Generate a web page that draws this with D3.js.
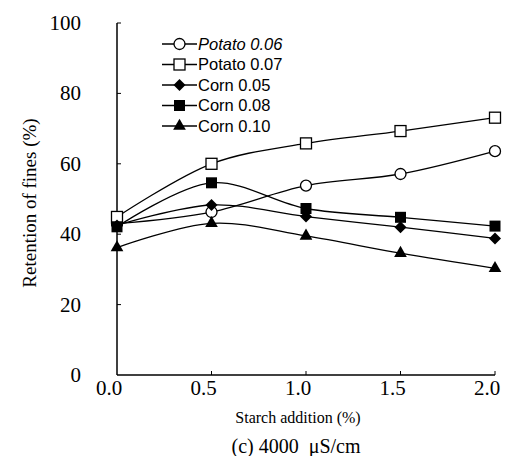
<!DOCTYPE html>
<html>
<head>
<meta charset="utf-8">
<script src="https://cdn.jsdelivr.net/npm/d3@7"></script>
<style>
  body { margin: 0; background: #fff; }
</style>
</head>
<body>
<div id="chart"></div>
<script>
const xValues = [0, 0.5, 1.0, 1.5, 2.0]
const xTicks = [0, 0.5, 1.0, 1.5, 2.0]
const yTicks = [0, 20, 40, 60, 80, 100]

const seriesNames = ['Potato 0.06', 'Potato 0.07', 'Corn 0.05', 'Corn 0.08', 'Corn 0.10']
const potato006 = [43.0, 46.3, 53.8, 57.1, 63.6]
const potato007 = [44.9, 60.0, 65.8, 69.3, 73.1]
const corn005 = [42.5, 48.3, 45.0, 42.0, 38.8]
const corn008 = [42.1, 54.6, 47.3, 44.8, 42.3]
const corn010 = [36.2, 43.1, 39.5, 34.6, 30.3]
const markers = ['circle', 'square', 'diamond', 'squareFilled', 'triangle']

const allSeries = [potato006, potato007, corn005, corn008, corn010].map((vals, i) => ({
  name: seriesNames[i],
  marker: markers[i],
  points: vals.map((v, j) => ({ x: xValues[j], y: v }))
}))

const width = 505
const height = 456

const svg = d3.select('#chart')
  .append('svg')
  .attr('width', width)
  .attr('height', height)

const x = d3.scaleLinear().domain([0, 2]).range([117, 495])
const y = d3.scaleLinear().domain([0, 100]).range([375, 23])

// axes drawn by hand so the ticks point inward
const axes = svg.append('g').attr('stroke', '#000').attr('fill', 'none')
axes.append('line')
  .attr('x1', x(0)).attr('x2', x(0))
  .attr('y1', y(100)).attr('y2', y(0))
  .attr('stroke-width', 1.5)
axes.append('line')
  .attr('x1', x(0)).attr('x2', x(2))
  .attr('y1', y(0)).attr('y2', y(0))
  .attr('stroke-width', 1.5)
axes.selectAll('.yt')
  .data(yTicks.slice(1))
  .join('line')
  .attr('x1', x(0)).attr('x2', x(0) + 4)
  .attr('y1', d => y(d)).attr('y2', d => y(d))
axes.selectAll('.xt')
  .data(xTicks.slice(1))
  .join('line')
  .attr('x1', d => x(d)).attr('x2', d => x(d))
  .attr('y1', y(0)).attr('y2', y(0) - 4)

const serif = '"Liberation Serif", "Times New Roman", serif'
const sans = '"Liberation Sans", Arial, sans-serif'

svg.append('g')
  .selectAll('text')
  .data(yTicks)
  .join('text')
  .attr('x', 81)
  .attr('y', d => y(d) + 7)
  .attr('text-anchor', 'end')
  .style('font', `21px ${serif}`)
  .text(d => d)

svg.append('g')
  .selectAll('text')
  .data(xTicks)
  .join('text')
  .attr('x', d => x(d) - 8)
  .attr('y', 395)
  .attr('text-anchor', 'middle')
  .style('font', `21px ${serif}`)
  .text(d => d.toFixed(1))

svg.append('text')
  .attr('transform', `translate(36,${203}) rotate(-90)`)
  .attr('text-anchor', 'middle')
  .style('font', `19px ${serif}`)
  .text('Retention of fines (%)')

svg.append('text')
  .attr('x', 298)
  .attr('y', 423)
  .attr('text-anchor', 'middle')
  .style('font', `16px ${serif}`)
  .text('Starch addition (%)')

svg.append('text')
  .attr('x', 296)
  .attr('y', 453)
  .attr('text-anchor', 'middle')
  .style('font', `20px ${serif}`)
  .style('white-space', 'pre')
  .text('(c) 4000  \u03bcS/cm')

const line = d3.line()
  .x(d => x(d.x))
  .y(d => y(d.y))
  .curve(d3.curveCatmullRom.alpha(0.5))

function drawMarker(g, type, cx, cy) {
  if (type === 'circle') {
    g.append('circle').attr('cx', cx).attr('cy', cy).attr('r', 5.5)
      .attr('fill', '#fff').attr('stroke', '#000').attr('stroke-width', 1.3)
  } else if (type === 'square') {
    g.append('rect').attr('x', cx - 5.5).attr('y', cy - 5.5).attr('width', 11).attr('height', 11)
      .attr('fill', '#fff').attr('stroke', '#000').attr('stroke-width', 1.3)
  } else if (type === 'squareFilled') {
    g.append('rect').attr('x', cx - 5.5).attr('y', cy - 5.5).attr('width', 11).attr('height', 11)
      .attr('fill', '#000')
  } else if (type === 'diamond') {
    // a square turned 45 degrees, wider than d3's own diamond
    g.append('path')
      .attr('d', d3.symbol(d3.symbolSquare, 72)())
      .attr('transform', `translate(${cx},${cy}) rotate(45)`)
      .attr('fill', '#000')
  } else if (type === 'triangle') {
    g.append('path')
      .attr('d', d3.symbol(d3.symbolTriangle, 70)())
      .attr('transform', `translate(${cx},${cy})`)
      .attr('fill', '#000')
  }
}

const plot = svg.append('g')
allSeries.forEach(s => {
  plot.append('path')
    .datum(s.points)
    .attr('d', line)
    .attr('fill', 'none')
    .attr('stroke', '#000')
    .attr('stroke-width', 1.3)
})
allSeries.forEach(s => {
  const g = plot.append('g')
  s.points.forEach(p => drawMarker(g, s.marker, x(p.x), y(p.y)))
})

// legend
const legend = svg.append('g')
allSeries.forEach((s, i) => {
  const ly = 44 + i * 20.5
  const g = legend.append('g')
  g.append('line')
    .attr('x1', 162).attr('x2', 197)
    .attr('y1', ly).attr('y2', ly)
    .attr('stroke', '#000').attr('stroke-width', 1.3)
  drawMarker(g, s.marker, 179.5, ly)
  g.append('text')
    .attr('x', 198)
    .attr('y', ly + 5.5)
    .style('font', `${i === 0 ? 'italic ' : ''}16.5px ${sans}`)
    .text(s.name)
})
</script>
</body>
</html>
